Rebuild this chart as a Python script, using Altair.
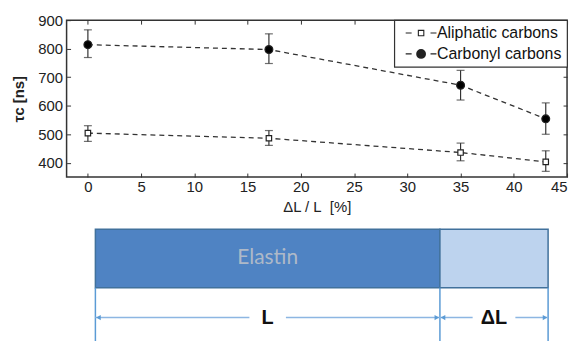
import altair as alt
import pandas as pd

# ---- data ----
strain = [0, 17, 35, 43]
aliphatic = [504, 486, 436, 403]
aliphatic_lo = [475, 461, 407, 370]
aliphatic_hi = [530, 513, 469, 442]
carbonyl = [814, 797, 672, 554]
carbonyl_lo = [769, 748, 620, 500]
carbonyl_hi = [866, 852, 724, 610]
series = ["Aliphatic carbons", "Carbonyl carbons"]
x_ticks = [0, 5, 10, 15, 20, 25, 30, 35, 40, 45]
y_ticks = [400, 500, 600, 700, 800, 900]

# schematic: elastin length L and extension dL
L_len = 100.0
dL_len = 31.4

rows = []
for name, vals, lo, hi in [(series[0], aliphatic, aliphatic_lo, aliphatic_hi),
                           (series[1], carbonyl, carbonyl_lo, carbonyl_hi)]:
    for s, v, a, b in zip(strain, vals, lo, hi):
        rows.append({"series": name, "strain": s, "tau": v, "lo": a, "hi": b})
df = pd.DataFrame(rows)

FONT = "Liberation Sans"
INK = "#222222"

xs = alt.Scale(domain=[-2, 45], nice=False, zero=False)
ys = alt.Scale(domain=[350, 900], nice=False, zero=False)

x_bottom = alt.Axis(values=x_ticks, title="ΔL / L\u00a0\u00a0[%]", orient="bottom", domain=False,
                    grid=False, offset=-4, tickSize=4, tickColor="#333", labelPadding=3,
                    labelFontSize=15, labelColor=INK, labelFont=FONT, titleFont=FONT,
                    titleFontSize=15, titleFontWeight="normal", titleColor=INK, titlePadding=5)
y_left = alt.Axis(values=y_ticks, title="τc [ns]", orient="left", domain=False, grid=False,
                  offset=-4, tickSize=4, tickColor="#333", labelPadding=4,
                  labelFontSize=15, labelColor=INK, labelFont=FONT, titleFont=FONT,
                  titleFontSize=15, titleFontWeight="bold", titleColor=INK, titlePadding=11)
x_top = alt.Axis(values=x_ticks, title="", orient="top", domain=False, grid=False,
                 offset=-4, tickSize=4, tickColor="#333", labels=False)
y_right = alt.Axis(values=y_ticks, title="", orient="right", domain=False, grid=False,
                   offset=-4, tickSize=4, tickColor="#333", labels=False)

base = alt.Chart(df)

lines = base.mark_line(strokeDash=[5, 4], strokeWidth=1.3, color="#333").encode(
    x=alt.X("strain:Q", scale=xs, axis=x_bottom),
    y=alt.Y("tau:Q", scale=ys, axis=y_left),
    detail="series:N",
)

err = base.mark_rule(color="#333", strokeWidth=1.2).encode(
    x=alt.X("strain:Q", scale=xs, axis=x_top),
    y=alt.Y("lo:Q", scale=ys, axis=y_right),
    y2="hi:Q",
)

cap_hi = base.mark_tick(orient="horizontal", size=8, thickness=1.2, color="#333").encode(
    x=alt.X("strain:Q", scale=xs, axis=None),
    y=alt.Y("hi:Q", scale=ys, axis=None),
)
cap_lo = base.mark_tick(orient="horizontal", size=8, thickness=1.2, color="#333").encode(
    x=alt.X("strain:Q", scale=xs, axis=None),
    y=alt.Y("lo:Q", scale=ys, axis=None),
)

ali_pts = base.transform_filter(alt.datum.series == series[0]).mark_point(
    shape="square", size=30, fill="white", stroke="#222", strokeWidth=1.2, opacity=1
).encode(x=alt.X("strain:Q", scale=xs, axis=None), y=alt.Y("tau:Q", scale=ys, axis=None))
car_pts = base.transform_filter(alt.datum.series == series[1]).mark_point(
    shape="circle", size=62, fill="black", stroke="#222", strokeWidth=1.2, opacity=1
).encode(x=alt.X("strain:Q", scale=xs, axis=None), y=alt.Y("tau:Q", scale=ys, axis=None))


# legend glyphs: dashed line with marker (disc drawn as concentric rings)
def ring(r):
    return "M%g,0A%g,%g,0,1,1,%g,0A%g,%g,0,1,1,%g,0Z" % (r, r, r, -r, r, r, r)


DASHES = "M-3.1,0H-1.9M1.9,0H3.1"
P_ALI = DASHES + "M-0.55,-0.55H0.55V0.55H-0.55Z"
P_CAR = DASHES + "".join(ring(r) for r in [0.88, 0.68, 0.48, 0.28, 0.1])
legend = alt.Legend(
    title=None, orient="top-right", offset=0, padding=5, fillColor="white",
    strokeColor="#333", labelFontSize=16, labelFont=FONT, labelColor="#111",
    symbolSize=100, symbolOffset=14, labelOffset=8, rowPadding=5,
    symbolOpacity=1, symbolStrokeWidth=1.1, symbolStrokeColor="#222",
)
legend_layer = base.mark_point(opacity=0, color="#222", strokeWidth=1.1).encode(
    x=alt.X("strain:Q", scale=xs, axis=None),
    y=alt.Y("tau:Q", scale=ys, axis=None),
    shape=alt.Shape("series:N", scale=alt.Scale(domain=series, range=[P_ALI, P_CAR]), legend=legend),
)

top = alt.layer(lines, err, cap_hi, cap_lo, ali_pts, car_pts, legend_layer).resolve_axis(
    x="independent", y="independent"
).properties(width=504, height=158, view=alt.ViewBackground(stroke="#333", strokeWidth=1.5))

# ---- schematic below ----
bar_df = pd.DataFrame({"part": ["Elastin", "Extension"], "start": [0.0, L_len], "end": [L_len, L_len + dL_len]})
edge_df = pd.DataFrame({"pos": [0.0, L_len, L_len + dL_len]})
gapL = 5.3
gapD = 6.2
midL = L_len / 2
midD = L_len + dL_len / 2
seg_df = pd.DataFrame({"a": [0.0, midL + gapL, L_len, midD + gapD],
                       "b": [midL - gapL, L_len, midD - gapD, L_len + dL_len]})
head = 0.9
heads_df = pd.DataFrame({"pos": [0.0 + head, L_len - head, L_len + head, L_len + dL_len - head],
                         "dir": ["l", "r", "l", "r"]})
lab_df = pd.DataFrame({"pos": [midL, midD], "text": ["L", "ΔL"]})
name_df = pd.DataFrame({"pos": [midL], "text": ["Elastin"]})

dx = alt.Scale(domain=[-8.36, 136.9], nice=False, zero=False)
Y_TOP, Y_BOT, Y_ARR, Y_END = 11.5, 70.5, 100.5, 140

bars = alt.Chart(bar_df).mark_rect(stroke="#41719C", strokeWidth=1.5).encode(
    x=alt.X("start:Q", scale=dx, axis=None), x2="end:Q",
    y=alt.value(Y_TOP), y2=alt.value(Y_BOT),
    fill=alt.Fill("part:N", scale=alt.Scale(domain=["Elastin", "Extension"], range=["#4F83C3", "#BDD3EE"]), legend=None),
)
name = alt.Chart(name_df).mark_text(font="Lato", fontSize=21, color="#AEB9C8").encode(
    x=alt.X("pos:Q", scale=dx, axis=None), y=alt.value((Y_TOP + Y_BOT) / 2), text="text:N")
edges = alt.Chart(edge_df).mark_rule(color="#5B9BD5", strokeWidth=1.5).encode(
    x=alt.X("pos:Q", scale=dx, axis=None), y=alt.value(Y_BOT), y2=alt.value(Y_END))
segs = alt.Chart(seg_df).mark_rule(color="#8DB6E2", strokeWidth=1.5).encode(
    x=alt.X("a:Q", scale=dx, axis=None), x2="b:Q", y=alt.value(Y_ARR))
heads = alt.Chart(heads_df).mark_point(filled=True, opacity=1, color="#5B9BD5", size=28).encode(
    x=alt.X("pos:Q", scale=dx, axis=None), y=alt.value(Y_ARR),
    shape=alt.Shape("dir:N", scale=alt.Scale(domain=["l", "r"], range=["triangle-left", "triangle-right"]), legend=None))
labs = alt.Chart(lab_df).mark_text(font=FONT, fontSize=20, fontWeight="bold", color="#111").encode(
    x=alt.X("pos:Q", scale=dx, axis=None), y=alt.value(Y_ARR), text="text:N")

bottom = alt.layer(bars, name, edges, segs, heads, labs).properties(
    width=504, height=121, view=alt.ViewBackground(strokeWidth=0))

chart = alt.vconcat(top, bottom, spacing=2).resolve_scale(
    x="independent", fill="independent", shape="independent"
).properties(
    padding={"left": 3, "top": 3, "right": 5, "bottom": 0}
).configure_view(strokeWidth=0).configure_legend(strokeWidth=1.2)

chart.save("out.html", embed_options={"renderer": "svg", "actions": False})
